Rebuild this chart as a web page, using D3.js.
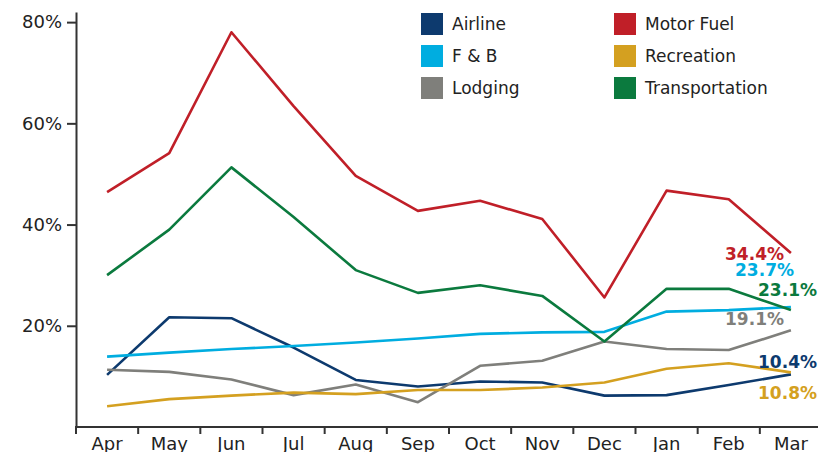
<!DOCTYPE html>
<html>
<head>
<meta charset="utf-8">
<script src="https://cdn.jsdelivr.net/npm/d3@7"></script>
<style>
  html, body { margin: 0; padding: 0; background: #fff; }
  svg { display: block; font-family: "DejaVu Sans", Verdana, sans-serif; }
</style>
</head>
<body>
<svg id="chart" width="818" height="452"></svg>
<script>
const months = ["Apr","May","Jun","Jul","Aug","Sep","Oct","Nov","Dec","Jan","Feb","Mar"];
const seriesNames = ["Airline","F & B","Lodging","Motor Fuel","Recreation","Transportation"];
const seriesColors = ["#0d3a6e","#00ade0","#7f7f7b","#c01f28","#d4a020","#0b7a3e"];
const airline        = [10.3, 21.7, 21.5, 15.7, 9.3, 8.0, 9.0, 8.8, 6.2, 6.3, 8.3, 10.4];
const fAndB          = [13.9, 14.7, 15.4, 16.0, 16.7, 17.5, 18.4, 18.7, 18.8, 22.8, 23.1, 23.7];
const lodging        = [11.3, 10.9, 9.4, 6.3, 8.4, 4.9, 12.1, 13.1, 16.9, 15.4, 15.2, 19.1];
const motorFuel      = [46.4, 54.1, 78.0, 63.4, 49.6, 42.7, 44.7, 41.1, 25.6, 46.7, 45.0, 34.4];
const recreation     = [4.1, 5.5, 6.2, 6.8, 6.5, 7.3, 7.3, 7.8, 8.8, 11.5, 12.6, 10.8];
const transportation = [30.0, 39.0, 51.3, 41.5, 31.0, 26.5, 28.0, 25.9, 16.9, 27.3, 27.3, 23.1];
const yTicks = [20, 40, 60, 80];
const endLabels = ["10.4%","23.7%","19.1%","34.4%","10.8%","23.1%"];

const allSeries = [airline, fAndB, lodging, motorFuel, recreation, transportation];

const svg = d3.select("#chart");
const x = d3.scaleBand().domain(months).range([76, 822]);
const y = d3.scaleLinear().domain([0, 82]).range([427, 12]);
const cx = m => x(m) + x.bandwidth() / 2;

// Y axis
const yAxis = svg.append("g").attr("transform", "translate(76,0)")
  .call(d3.axisLeft(y).tickValues(yTicks).tickFormat(d => d + "%").tickSize(9).tickSizeOuter(0));
yAxis.select(".domain").attr("stroke", "#333").attr("stroke-width", 2);
yAxis.selectAll(".tick line").attr("stroke", "#333").attr("stroke-width", 2);
yAxis.selectAll(".tick text").attr("font-size", 18).attr("fill", "#222")
  .attr("x", -14).attr("font-family", "DejaVu Sans, sans-serif");

// X axis line
svg.append("line").attr("x1", 75).attr("x2", 818).attr("y1", 427).attr("y2", 427)
  .attr("stroke", "#333").attr("stroke-width", 2);
// tick marks at band boundaries
svg.append("g").selectAll("line").data(months).join("line")
  .attr("x1", d => x(d)).attr("x2", d => x(d))
  .attr("y1", 427).attr("y2", 434)
  .attr("stroke", "#333").attr("stroke-width", 2);
// month labels
svg.append("g").selectAll("text").data(months).join("text")
  .attr("x", d => cx(d)).attr("y", 450)
  .attr("text-anchor", "middle").attr("font-size", 18).attr("fill", "#222")
  .text(d => d);

// Lines
const line = d3.line().x((d, i) => cx(months[i])).y(d => y(d));
svg.append("g").selectAll("path").data(allSeries).join("path")
  .attr("d", d => line(d))
  .attr("fill", "none")
  .attr("stroke", (d, i) => seriesColors[i])
  .attr("stroke-width", 2.6)
  .attr("stroke-linejoin", "round");

// End labels
const labelPos = [
  {x: 817, y: 368},   // Airline 10.4%
  {x: 794, y: 276},   // F&B 23.7%
  {x: 784, y: 325},   // Lodging 19.1%
  {x: 784, y: 260},   // Motor Fuel 34.4%
  {x: 817, y: 399},   // Recreation 10.8%
  {x: 817, y: 296}    // Transportation 23.1%
];
svg.append("g").selectAll("text").data(endLabels).join("text")
  .attr("x", (d, i) => labelPos[i].x).attr("y", (d, i) => labelPos[i].y)
  .attr("text-anchor", "end").attr("font-size", 17).attr("font-weight", "bold")
  .attr("fill", (d, i) => seriesColors[i])
  .text(d => d);

// Legend
const legend = svg.append("g");
const legItems = seriesNames.map((n, i) => ({name: n, color: seriesColors[i], col: Math.floor(i / 3), row: i % 3}));
const lg = legend.selectAll("g").data(legItems).join("g")
  .attr("transform", d => `translate(${d.col === 0 ? 421 : 614},${13 + d.row * 32})`);
lg.append("rect").attr("width", 22).attr("height", 22).attr("fill", d => d.color);
lg.append("text").attr("x", 31).attr("y", 17).attr("font-size", 17).attr("fill", "#222")
  .text(d => d.name);
</script>
</body>
</html>
